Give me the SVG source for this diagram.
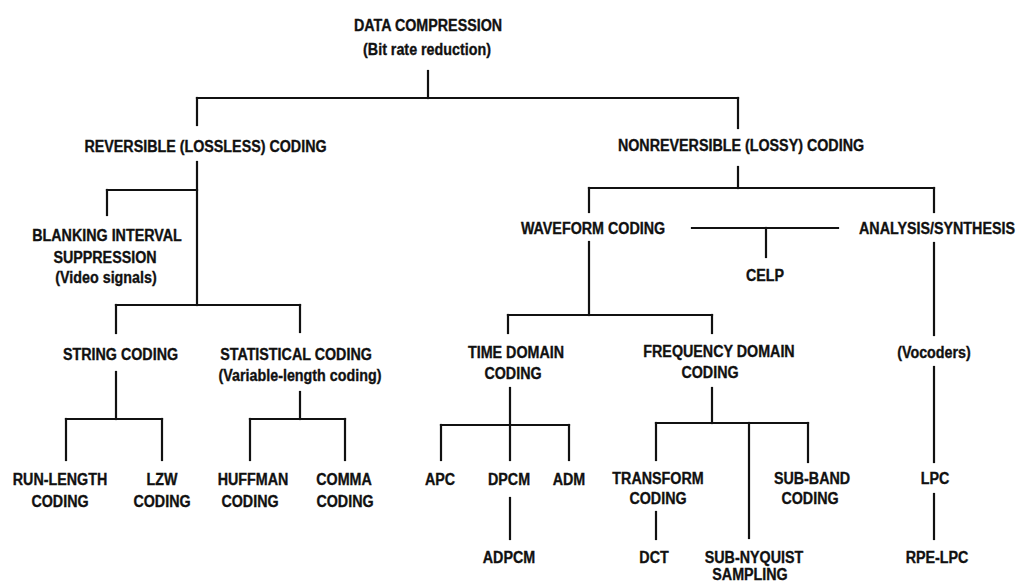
<svg xmlns="http://www.w3.org/2000/svg" width="1020" height="581" viewBox="0 0 1020 581">
<style>
  text { font-family: "Liberation Sans", Arial, Helvetica, sans-serif; font-weight: bold; font-size: 14.3px; fill: #111; stroke: #111; stroke-width: 0.3; text-anchor: middle; }
  .c line { stroke: #111; stroke-width: 2.2; stroke-linecap: square; }
</style>
<rect width="1020" height="581" fill="#fff"/>
<g id="connectors" class="c">
  <line x1="428" y1="71" x2="428" y2="98"/>
  <line x1="197" y1="98" x2="738" y2="98"/>
  <line x1="197" y1="98" x2="197" y2="125"/>
  <line x1="738" y1="98" x2="738" y2="128"/>
  <line x1="197" y1="162" x2="197" y2="305"/>
  <line x1="107" y1="190" x2="197" y2="190"/>
  <line x1="107" y1="190" x2="107" y2="215"/>
  <line x1="116" y1="305" x2="300" y2="305"/>
  <line x1="116" y1="305" x2="116" y2="333"/>
  <line x1="300" y1="305" x2="300" y2="332"/>
  <line x1="116" y1="372" x2="116" y2="419"/>
  <line x1="66" y1="419" x2="162" y2="419"/>
  <line x1="66" y1="419" x2="66" y2="460"/>
  <line x1="162" y1="419" x2="162" y2="460"/>
  <line x1="300" y1="392" x2="300" y2="419"/>
  <line x1="250" y1="419" x2="345" y2="419"/>
  <line x1="250" y1="419" x2="250" y2="460"/>
  <line x1="345" y1="419" x2="345" y2="460"/>
  <line x1="738" y1="167" x2="738" y2="188"/>
  <line x1="589" y1="188" x2="934" y2="188"/>
  <line x1="589" y1="188" x2="589" y2="212"/>
  <line x1="934" y1="188" x2="934" y2="212"/>
  <line x1="692" y1="228" x2="838" y2="228"/>
  <line x1="766" y1="228" x2="766" y2="257"/>
  <line x1="589" y1="242" x2="589" y2="315"/>
  <line x1="508" y1="315" x2="712" y2="315"/>
  <line x1="508" y1="315" x2="508" y2="333"/>
  <line x1="712" y1="315" x2="712" y2="333"/>
  <line x1="510" y1="388" x2="510" y2="425"/>
  <line x1="441" y1="425" x2="569" y2="425"/>
  <line x1="441" y1="425" x2="441" y2="460"/>
  <line x1="510" y1="425" x2="510" y2="460"/>
  <line x1="569" y1="425" x2="569" y2="460"/>
  <line x1="510" y1="498" x2="510" y2="539"/>
  <line x1="712" y1="388" x2="712" y2="423"/>
  <line x1="656" y1="423" x2="808" y2="423"/>
  <line x1="656" y1="423" x2="656" y2="460"/>
  <line x1="749" y1="423" x2="749" y2="538"/>
  <line x1="808" y1="423" x2="808" y2="462"/>
  <line x1="656" y1="512" x2="656" y2="539"/>
  <line x1="934" y1="243" x2="934" y2="335"/>
  <line x1="934" y1="367" x2="934" y2="462"/>
  <line x1="934" y1="494" x2="934" y2="539"/>
</g>
<g id="n-root">
  <text transform="translate(428,30.5) scale(1,1.13)">DATA COMPRESSION</text>
  <text transform="translate(427,55) scale(1,1.13)">(Bit rate reduction)</text>
</g>
<g id="n-reversible"><text transform="translate(205.5,152) scale(1,1.13)">REVERSIBLE (LOSSLESS) CODING</text></g>
<g id="n-nonreversible"><text transform="translate(741,151) scale(1,1.13)">NONREVERSIBLE (LOSSY) CODING</text></g>
<g id="n-blanking">
  <text transform="translate(107,241) scale(1,1.13)">BLANKING INTERVAL</text>
  <text transform="translate(105,263) scale(1,1.13)">SUPPRESSION</text>
  <text transform="translate(106,283) scale(1,1.13)">(Video signals)</text>
</g>
<g id="n-string"><text transform="translate(120.5,360) scale(1,1.13)">STRING CODING</text></g>
<g id="n-statistical">
  <text transform="translate(296,360) scale(1,1.13)">STATISTICAL CODING</text>
  <text transform="translate(300,381) scale(1,1.13)">(Variable-length coding)</text>
</g>
<g id="n-runlength">
  <text transform="translate(60,485) scale(1,1.13)">RUN-LENGTH</text>
  <text transform="translate(60,507) scale(1,1.13)">CODING</text>
</g>
<g id="n-lzw">
  <text transform="translate(162,485) scale(1,1.13)">LZW</text>
  <text transform="translate(162,507) scale(1,1.13)">CODING</text>
</g>
<g id="n-huffman">
  <text transform="translate(253,485) scale(1,1.13)">HUFFMAN</text>
  <text transform="translate(250,507) scale(1,1.13)">CODING</text>
</g>
<g id="n-comma">
  <text transform="translate(344,485) scale(1,1.13)">COMMA</text>
  <text transform="translate(345,507) scale(1,1.13)">CODING</text>
</g>
<g id="n-waveform"><text transform="translate(593,234) scale(1,1.13)">WAVEFORM CODING</text></g>
<g id="n-analysis"><text transform="translate(937,234) scale(1,1.13)">ANALYSIS/SYNTHESIS</text></g>
<g id="n-celp"><text transform="translate(765,281) scale(1,1.13)">CELP</text></g>
<g id="n-timedomain">
  <text transform="translate(516,358) scale(1,1.13)">TIME DOMAIN</text>
  <text transform="translate(513,379) scale(1,1.13)">CODING</text>
</g>
<g id="n-freqdomain">
  <text transform="translate(719,357) scale(1,1.13)">FREQUENCY DOMAIN</text>
  <text transform="translate(710,378) scale(1,1.13)">CODING</text>
</g>
<g id="n-vocoders"><text transform="translate(934,358) scale(1,1.13)">(Vocoders)</text></g>
<g id="n-apc"><text transform="translate(440,485) scale(1,1.13)">APC</text></g>
<g id="n-dpcm"><text transform="translate(509,485) scale(1,1.13)">DPCM</text></g>
<g id="n-adm"><text transform="translate(569,485) scale(1,1.13)">ADM</text></g>
<g id="n-adpcm"><text transform="translate(509,563) scale(1,1.13)">ADPCM</text></g>
<g id="n-transform">
  <text transform="translate(658,484) scale(1,1.13)">TRANSFORM</text>
  <text transform="translate(658,504) scale(1,1.13)">CODING</text>
</g>
<g id="n-subband">
  <text transform="translate(812,484) scale(1,1.13)">SUB-BAND</text>
  <text transform="translate(810,504) scale(1,1.13)">CODING</text>
</g>
<g id="n-dct"><text transform="translate(654,563) scale(1,1.13)">DCT</text></g>
<g id="n-subnyquist">
  <text transform="translate(754,563) scale(1,1.13)">SUB-NYQUIST</text>
  <text transform="translate(750,579.5) scale(1,1.13)">SAMPLING</text>
</g>
<g id="n-lpc"><text transform="translate(935,484) scale(1,1.13)">LPC</text></g>
<g id="n-rpelpc"><text transform="translate(937,563) scale(1,1.13)">RPE-LPC</text></g>
</svg>
